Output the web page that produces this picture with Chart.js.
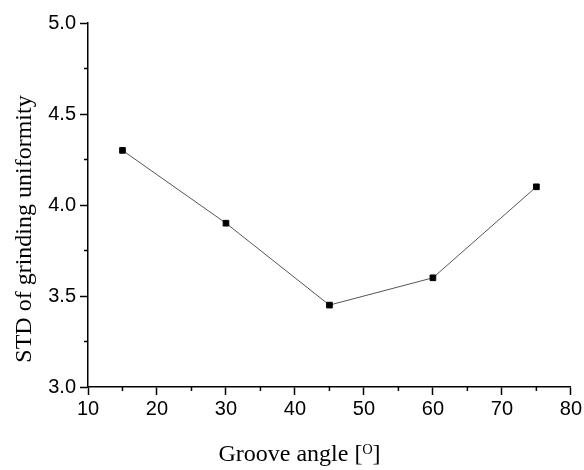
<!DOCTYPE html>
<html>
<head>
<meta charset="utf-8">
<script src="https://cdn.jsdelivr.net/npm/chart.js@4/dist/chart.umd.min.js"></script>
<style>
  html, body { margin: 0; padding: 0; background: #fff; }
  #wrap { width: 584px; height: 470px; }
</style>
</head>
<body>
<div id="wrap"><canvas id="grafico" width="584" height="470"></canvas></div>
<script>
// ─── DATA ────────────────────────────────────────────────────────────────────
const angulos = [15, 30, 45, 60, 75];
const stdValores = [4.3, 3.9, 3.45, 3.6, 4.1];
const xTicks = [10, 20, 30, 40, 50, 60, 70, 80];
const yTicks = [3.0, 3.5, 4.0, 4.5, 5.0];

// titles sit off-centre in the original, trailing nbsp nudges them
const nb = n => "\u00A0".repeat(n);

// minor ticks between the major ones, drawn via the scales
const minorTicks = {
  id: "minorTicks",
  afterDraw(chart){
    const { ctx, scales: { x, y } } = chart;
    ctx.save();
    ctx.strokeStyle = "#000";
    ctx.lineWidth = 1.5;
    ctx.beginPath();
    for(let v = 15; v < 80; v += 10){
      const px = x.getPixelForValue(v);
      ctx.moveTo(px, x.top); ctx.lineTo(px, x.top + 4);
    }
    for(let v = 3.25; v < 5; v += 0.5){
      const py = y.getPixelForValue(v);
      ctx.moveTo(y.right, py); ctx.lineTo(y.right - 4, py);
    }
    ctx.stroke();
    ctx.restore();
  }
};

const tickFont = { family: "'Liberation Sans', Arial, sans-serif", size: 20 };
const titleFont = { family: "'Liberation Serif', 'Times New Roman', serif", size: 24 };

new Chart(document.getElementById("grafico"), {
  type: "line",
  data: {
    datasets: [{
      data: angulos.map((a, i) => ({ x: a, y: stdValores[i] })),
      borderColor: "#555",
      borderWidth: 1,
      pointStyle: "rect",
      pointRadius: 4,
      pointBackgroundColor: "#000",
      pointBorderColor: "#000",
      tension: 0
    }]
  },
  options: {
    responsive: false,
    animation: false,
    layout: { padding: { top: 23, right: 12, bottom: 0, left: 0 } },
    plugins: { legend: { display: false }, tooltip: { enabled: false } },
    scales: {
      x: {
        type: "linear",
        min: 10, max: 80,
        afterBuildTicks: s => { s.ticks = xTicks.map(v => ({ value: v })); },
        afterFit: s => { s.height = 83; },
        border: { display: true, color: "#000", width: 1.5 },
        grid: { drawOnChartArea: false, drawTicks: true, tickLength: 8, tickColor: "#000", tickWidth: 1.5 },
        ticks: { color: "#000", font: tickFont, padding: 2 },
        title: { display: true, text: "Groove angle [ᴼ]" + nb(10), color: "#000", font: titleFont, padding: { top: 4, bottom: 1 } }
      },
      y: {
        min: 3, max: 5,
        afterBuildTicks: s => { s.ticks = yTicks.map(v => ({ value: v })); },
        afterFit: s => { s.width = 88; },
        border: { display: true, color: "#000", width: 1.5 },
        grid: { drawOnChartArea: false, drawTicks: true, tickLength: 8, tickColor: "#000", tickWidth: 1.5 },
        ticks: { color: "#000", font: tickFont, padding: 4, callback: v => v.toFixed(1) },
        title: { display: true, text: "STD of grinding uniformity" + nb(8), color: "#000", font: titleFont, padding: { top: 10, bottom: 4 } }
      }
    }
  },
  plugins: [minorTicks]
});
</script>
</body>
</html>
